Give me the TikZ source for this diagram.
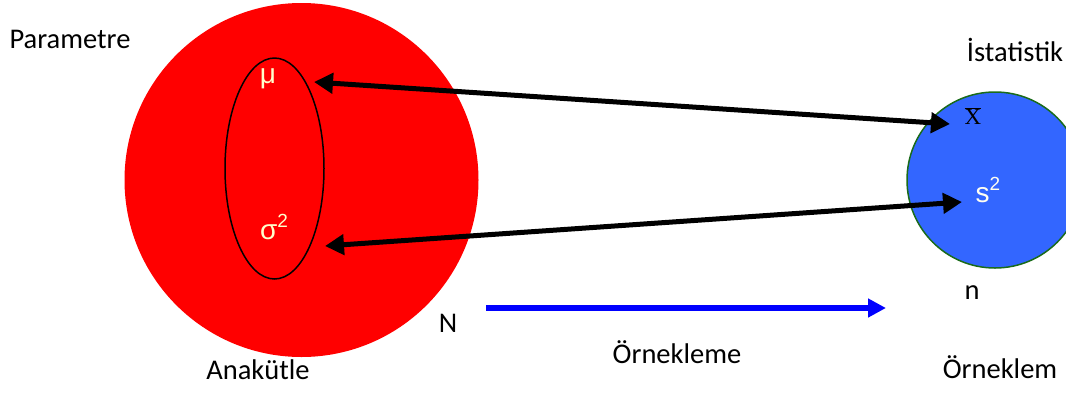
\documentclass[tikz,border=0pt]{standalone}
\usepackage{fontspec}
\setmainfont{Carlito}
\newfontfamily\arialf{Liberation Sans}
\newfontfamily\serff{Liberation Serif}
\usetikzlibrary{shapes.geometric,arrows.meta}
\definecolor{popred}{HTML}{FF0000}
\definecolor{sampblue}{HTML}{3366FF}
\definecolor{sampedge}{HTML}{1A6B1A}
\definecolor{lighttxt}{HTML}{FFFFCC}
\newcommand{\sqtwo}{\raisebox{0.40em}{\fontsize{19}{19}\selectfont 2}}
\tikzset{
  lbl/.style={font=\fontsize{28.5}{32}\selectfont, text=black, inner sep=0pt, anchor=base},
  sym/.style={font=\arialf\fontsize{28}{32}\selectfont, text=lighttxt, inner sep=0pt},
  link/.style={line width=5pt, draw=black, {Triangle[length=19pt,width=20pt]}-{Triangle[length=19pt,width=20pt]}},
  samplearrow/.style={line width=6pt, draw=blue, -{Triangle[length=18pt,width=18pt]}}
}
\begin{document}
\begin{tikzpicture}[x=1pt,y=-1pt]
\useasboundingbox (0,0) rectangle (1066,392);
\begin{scope}
\clip (0,0) rectangle (1066,392);
\node[circle, fill=popred, minimum size=354pt, inner sep=0pt] (pop) at (301.5,180) {};
\node[circle, fill=sampblue, draw=sampedge, line width=1.5pt, minimum size=176pt, inner sep=0pt] (samp) at (995,180) {};
\end{scope}
\node[ellipse, draw=black, line width=1.5pt, minimum width=99pt, minimum height=221pt, inner sep=0pt] (par) at (274.5,168.5) {};
\node[sym] (mu) at (268,79) {μ};
\node[sym] (sigma) at (274,227) {σ\sqtwo};
\node[sym, text=white!95!yellow] (s2) at (988,190) {s\sqtwo};
\node[inner sep=0pt, font=\serff\fontsize{23}{26}\selectfont] (xbar) at (973,116) {$\overline{\hbox{X}}$};
\coordinate (muend) at (314,82);
\coordinate (xend) at (950,124);
\coordinate (sigend) at (325,246);
\coordinate (send) at (962,202);
\draw[link] (muend) -- (xend);
\draw[link] (sigend) -- (send);
\coordinate (sa) at (486,308);
\coordinate (sb) at (886,308);
\draw[samplearrow] (sa) -- (sb);
\node[lbl] (parametre) at (70,48) {Parametre};
\node[lbl] (istat) at (1015,61) {İstatistik};
\node[lbl] (anak) at (258,379) {Anakütle};
\node[lbl] (ornekleme) at (677,363) {Örnekleme};
\node[lbl] (orneklem) at (1000,378) {Örneklem};
\node[lbl] (bigN) at (448,332) {N};
\node[lbl] (smalln) at (972,299) {n};
\end{tikzpicture}
\end{document}
